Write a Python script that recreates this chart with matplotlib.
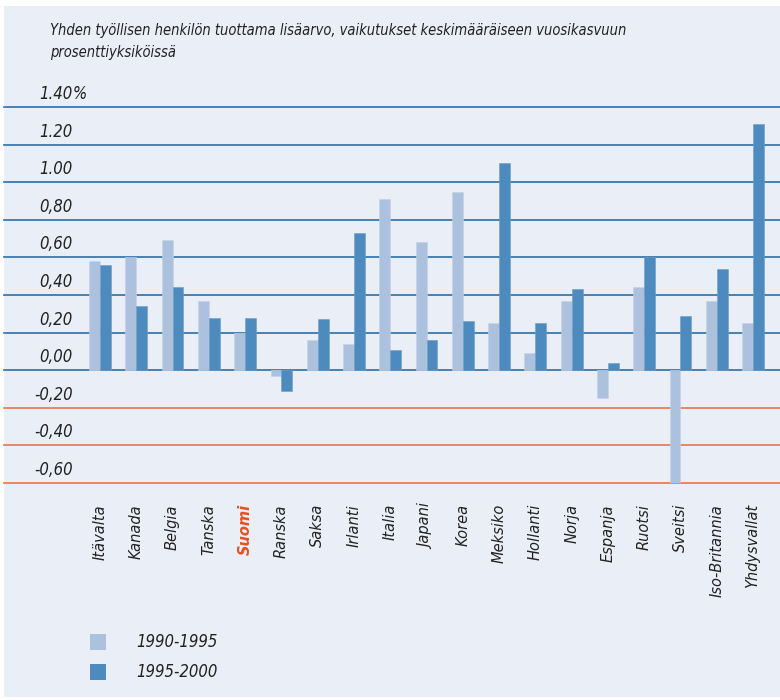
import matplotlib.pyplot as plt
from matplotlib.patches import Rectangle

maat = ["Itävalta", "Kanada", "Belgia", "Tanska", "Suomi", "Ranska", "Saksa",
        "Irlanti", "Italia", "Japani", "Korea", "Meksiko", "Hollanti", "Norja",
        "Espanja", "Ruotsi", "Sveitsi", "Iso-Britannia", "Yhdysvallat"]
v1990_1995 = [0.58, 0.60, 0.69, 0.37, 0.20, -0.03, 0.16, 0.14, 0.91, 0.68,
              0.95, 0.25, 0.09, 0.37, -0.15, 0.44, -0.60, 0.37, 0.25]
v1995_2000 = [0.56, 0.34, 0.44, 0.28, 0.28, -0.11, 0.27, 0.73, 0.11, 0.16,
              0.26, 1.10, 0.25, 0.43, 0.04, 0.60, 0.29, 0.54, 1.31]
y_ticks = [1.40, 1.20, 1.00, 0.80, 0.60, 0.40, 0.20, 0.00, -0.20, -0.40, -0.60]
y_labels = ["1.40", "1.20", "1.00", "0,80", "0,60", "0,40", "0,20", "0,00",
            "-0,20", "-0,40", "-0,60"]
sarjat = ["1990-1995", "1995-2000"]

BG = "#eaeef6"
LIGHT = "#abc1de"
DARK = "#4d8abd"
BLUE_LINE = "#2a6fa9"
RED_LINE = "#e5754d"
TXT = "#222222"
narrow = dict(family="DejaVu Sans", fontstretch="condensed", style="italic")

W, H = 780, 700
fig = plt.figure(figsize=(W / 100, H / 100), dpi=100)
fig.patch.set_facecolor("white")
fig.add_artist(Rectangle((4 / W, 3 / H), 1 - 4 / W, 1 - 9 / H,
                         transform=fig.transFigure, facecolor=BG,
                         edgecolor="none", zorder=0))

# plot area: 1.40 line at y=107 px, -0.60 line at y=483 px
ax = fig.add_axes([4 / W, 1 - 483 / H, 1 - 4 / W, (483 - 107) / H])
ax.set_facecolor("none")
ax.set_ylim(-0.6, 1.4)
ax.set_xlim(-2.646, 18.743)
ax.axis("off")

for t in y_ticks:
    ax.axhline(t, color=BLUE_LINE if t >= 0 else RED_LINE, lw=1.2,
               zorder=1, clip_on=False)

x = list(range(len(maat)))
w = 0.30
ax.bar([i - w / 2 for i in x], v1990_1995, w, color=LIGHT,
       edgecolor="#c4d3e8", linewidth=0.4, zorder=2)
ax.bar([i + w / 2 for i in x], v1995_2000, w, color=DARK,
       edgecolor="#6b9dc8", linewidth=0.4, zorder=2)

# value labels sit just above each gridline
for t, lab in zip(y_ticks, y_labels):
    ax.annotate(lab, (0, t), xycoords=("axes fraction", "data"),
                xytext=(69, 4), textcoords="offset pixels", ha="right",
                va="bottom", fontsize=12, color=TXT, **narrow)
ax.annotate("%", (0, 1.40), xycoords=("axes fraction", "data"),
            xytext=(69, 4), textcoords="offset pixels", ha="left",
            va="bottom", fontsize=12, color=TXT, **narrow)

for i, m in enumerate(maat):
    suomi = m == "Suomi"
    ax.annotate(m, (i, -0.6), xycoords="data", xytext=(0, -21),
                textcoords="offset pixels", rotation=90, ha="center",
                va="top", fontsize=10.5, style="italic",
                color="#e8501e" if suomi else TXT,
                fontweight="bold" if suomi else "normal")

fig.text(50 / W, 1 - 30 / H,
         "Yhden työllisen henkilön tuottama lisäarvo, vaikutukset keskimääräiseen vuosikasvuun",
         ha="left", va="center", fontsize=10.5, color=TXT, **narrow)
fig.text(50 / W, 1 - 52 / H, "prosenttiyksiköissä", ha="left", va="center",
         fontsize=10.5, color=TXT, **narrow)

# legend
for k, (nimi, c) in enumerate(zip(sarjat, [LIGHT, DARK])):
    ytop = 634 + 30 * k
    fig.add_artist(Rectangle((90 / W, 1 - (ytop + 16) / H), 16 / W, 16 / H,
                             transform=fig.transFigure, facecolor=c,
                             edgecolor="none"))
    fig.text(136 / W, 1 - (ytop + 8) / H, nimi, ha="left", va="center",
             fontsize=12, color=TXT, **narrow)

fig.savefig("out.png", dpi=100, facecolor=fig.get_facecolor())
